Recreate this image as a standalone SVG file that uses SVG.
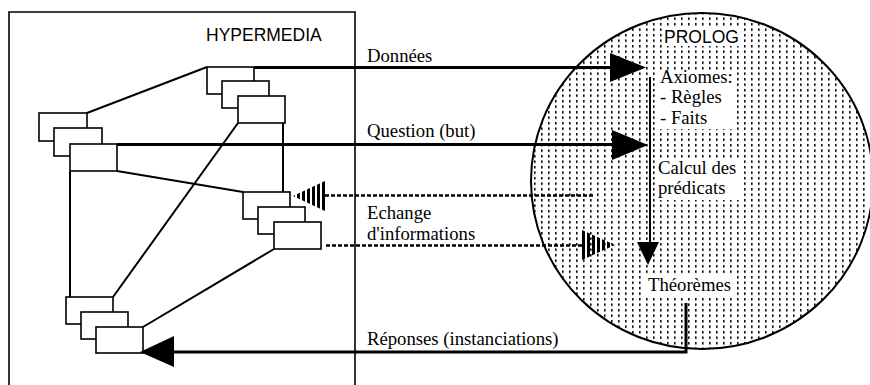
<svg xmlns="http://www.w3.org/2000/svg" width="870" height="385" viewBox="0 0 870 385">
<style>
.box{fill:#fff;stroke:#000;stroke-width:1.6}
.ln{fill:none;stroke:#000;stroke-width:2}
.thick{fill:none;stroke:#000;stroke-width:3}
.dash{fill:none;stroke:#000;stroke-width:2.6;stroke-dasharray:4 2}
.head{fill:#000;stroke:none}
.serif{font-family:"Liberation Serif","Times New Roman",serif;font-size:18.7px;fill:#000}
.sans{font-family:"Liberation Sans",Arial,sans-serif;font-size:17.5px;fill:#000}
.clear{fill:#fff;stroke:none}
</style>
<defs>
<pattern id="dots" patternUnits="userSpaceOnUse" x="0" y="0" width="7" height="5.5">
<rect x="2" y="1" width="1.6" height="2.4" fill="#000"/>
</pattern>
<pattern id="hatchL" patternUnits="userSpaceOnUse" x="2" y="0" width="5" height="10">
<rect x="0" y="0" width="3" height="10" fill="#000"/>
</pattern>
<pattern id="hatchR" patternUnits="userSpaceOnUse" x="2" y="0" width="5" height="10">
<rect x="0" y="0" width="3" height="10" fill="#000"/>
</pattern>
</defs>
<rect x="0" y="0" width="870" height="385" fill="#fff"/>

<g id="hypermedia">
<path d="M9,392 V12 H355 V392" fill="none" stroke="#000" stroke-width="1.6"/>
<text class="sans" x="206" y="41">HYPERMEDIA</text>
</g>

<g id="prolog">
<ellipse cx="702" cy="181" rx="171" ry="168" fill="url(#dots)" stroke="#000" stroke-width="2"/>
<rect class="clear" x="662" y="27" width="80" height="19"/>
<text class="sans" x="664" y="43">PROLOG</text>
</g>

<g id="axiomes">
<rect class="clear" x="657" y="71" width="78" height="58"/>
<text class="serif" x="660" y="83">Axiomes:</text>
<text class="serif" x="660" y="103">- Règles</text>
<text class="serif" x="660" y="124">- Faits</text>
</g>

<g id="calcul">
<rect class="clear" x="655" y="159" width="84" height="41"/>
<text class="serif" x="658" y="174">Calcul des</text>
<text class="serif" x="658" y="194">prédicats</text>
</g>

<g id="theoremes">
<rect class="clear" x="646" y="276" width="86" height="20"/>
<text class="serif" x="648" y="291">Théorèmes</text>
</g>

<g id="stackA">
<rect class="box" x="207" y="67" width="47" height="27"/>
<rect class="box" x="222" y="81" width="47" height="27"/>
<rect class="box" x="238" y="96" width="47" height="27"/>
</g>
<g id="stackB">
<rect class="box" x="39" y="113" width="48" height="28"/>
<rect class="box" x="54" y="128" width="48" height="28"/>
<rect class="box" x="70" y="144" width="47" height="27"/>
</g>
<g id="stackC">
<rect class="box" x="243" y="192" width="47" height="27"/>
<rect class="box" x="258" y="207" width="47" height="27"/>
<rect class="box" x="274" y="222" width="47" height="27"/>
</g>
<g id="stackD">
<rect class="box" x="66" y="297" width="47" height="27"/>
<rect class="box" x="81" y="312" width="47" height="27"/>
<rect class="box" x="96" y="327" width="47" height="26"/>
</g>

<g id="connectors">
<line class="ln" x1="87" y1="113" x2="207" y2="67"/>
<line class="ln" x1="283" y1="123" x2="283" y2="192"/>
<line class="ln" x1="117" y1="171" x2="243" y2="192"/>
<line class="ln" x1="70" y1="171" x2="70" y2="297"/>
<line class="ln" x1="238" y1="123" x2="113" y2="297"/>
<line class="ln" x1="274" y1="249" x2="143" y2="327"/>

<line class="thick" x1="254" y1="67.5" x2="612" y2="67.5"/>
<polygon class="head" points="610,53 646,67.5 610,82"/>
<line class="thick" x1="117" y1="144.5" x2="614" y2="144.5"/>
<polygon class="head" points="612,130 648,145 612,160"/>

<line class="dash" x1="593" y1="195.5" x2="325" y2="195.5"/>
<polygon points="293,196 325,181 325,211" fill="url(#hatchL)"/>
<line class="dash" x1="326" y1="245.5" x2="584" y2="245.5"/>
<polygon points="582,230 615,245 582,260" fill="url(#hatchR)"/>

<line class="ln" x1="650" y1="77" x2="650" y2="244"/>
<polygon class="head" points="637,242 659,242 648,265"/>

<path class="thick" d="M686,303 V352 H172"/>
<polygon class="head" points="174,336 140,352 174,367"/>

<text class="serif" x="367" y="62">Données</text>
<text class="serif" x="367" y="137">Question (but)</text>
<text class="serif" x="367" y="219">Echange</text>
<text class="serif" x="367" y="240">d'informations</text>
<text class="serif" x="367" y="345">Réponses (instanciations)</text>
</g>
</svg>
